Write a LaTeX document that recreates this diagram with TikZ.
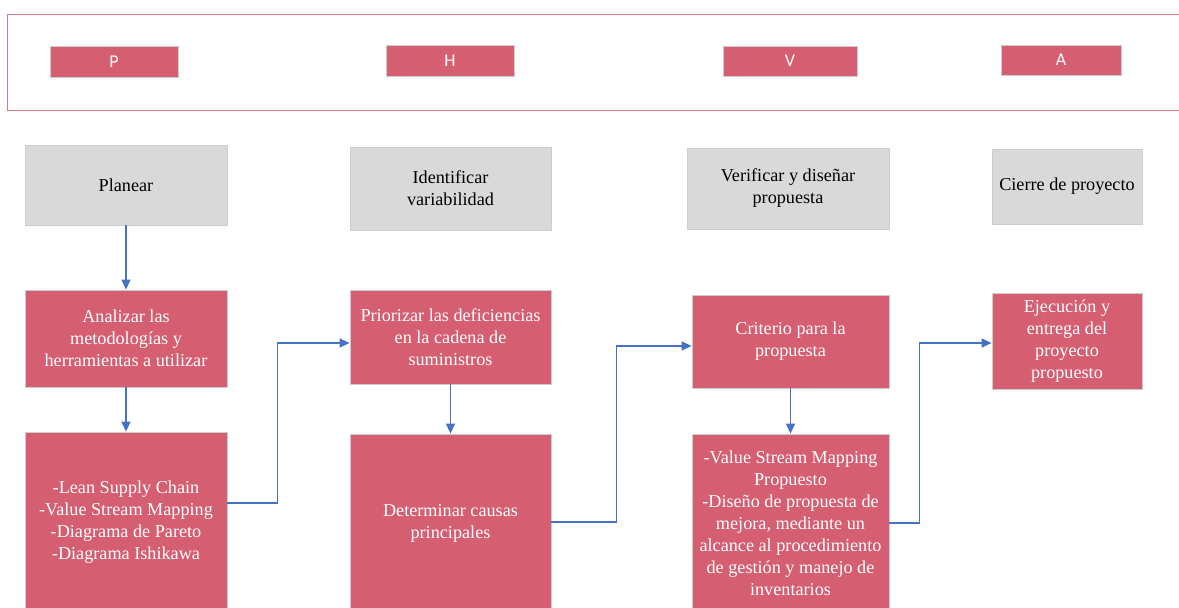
\documentclass[tikz,border=0pt]{standalone}
\usepackage{fontspec}
\setmainfont{Liberation Serif}
\newfontfamily\hdrfont{Carlito}
\usetikzlibrary{arrows.meta,calc}
\definecolor{rosa}{RGB}{213,94,113}
\definecolor{gris}{RGB}{217,217,217}
\definecolor{borde}{RGB}{205,205,205}
\definecolor{marco}{RGB}{214,122,138}
\definecolor{azul}{RGB}{68,114,196}
\tikzset{
  hdrbox/.style={draw=borde, line width=0.8pt, fill=rosa, text=white, font=\hdrfont\fontsize{18}{20}\selectfont, inner sep=0pt},
  graybox/.style={draw=borde, line width=0.8pt, fill=gris, text=black, align=center, font=\fontsize{18.2}{22}\selectfont, inner sep=0pt},
  redbox/.style={draw=borde, line width=0.8pt, fill=rosa, text=white, align=center, font=\fontsize{18.2}{22}\selectfont, inner sep=0pt},
  arr/.style={draw=azul, line width=1.3pt, -{Triangle[length=10pt,width=9pt]}}
}
\begin{document}
\begin{tikzpicture}[x=1pt,y=-1pt]
\useasboundingbox (0,0) rectangle (1179,608);
\clip (0,0) rectangle (1179,608);
% header frame
\draw[marco, line width=1pt] (7,14) rectangle (1190,110);
\node[hdrbox, minimum width=128, minimum height=31] (P) at (114,61.5) {P};
\node[hdrbox, minimum width=128, minimum height=31] (H) at (450,60.5) {H};
\node[hdrbox, minimum width=134, minimum height=30] (V) at (790,61) {V};
\node[hdrbox, minimum width=120, minimum height=30] (A) at (1061,60) {A};
% gray row
\node[graybox, minimum width=202, minimum height=80] (plan) at (126,185) {Planear};
\node[graybox, minimum width=201, minimum height=83] (ident) at (450.5,188.5) {Identificar\\variabilidad};
\node[graybox, minimum width=202, minimum height=81] (verif) at (788,188.5) {Verificar y diseñar\\propuesta};
\node[graybox, minimum width=150, minimum height=75] (cierre) at (1067,186.5) {Cierre de proyecto};
% red row 2
\node[redbox, minimum width=202, minimum height=97] (ana) at (126,338.5) {Analizar las\\metodologías y\\herramientas a utilizar};
\node[redbox, minimum width=201, minimum height=94] (prio) at (450.5,337) {Priorizar las deficiencias\\en la cadena de\\suministros};
\node[redbox, minimum width=197, minimum height=93] (crit) at (790.5,341.5) {Criterio para la\\propuesta};
\node[redbox, minimum width=150, minimum height=96] (ejec) at (1067,341) {Ejecución y\\entrega del\\proyecto\\propuesto};
% red row 3
\node[redbox, minimum width=202, minimum height=180] (lean) at (126,522) {-Lean Supply Chain\\-Value Stream Mapping\\-Diagrama de Pareto\\-Diagrama Ishikawa};
\node[redbox, minimum width=201, minimum height=178] (det) at (450.5,523) {Determinar causas\\principales};
\node[redbox, minimum width=197, minimum height=178] (vsm) at (790.5,523) {-Value Stream Mapping\\Propuesto\\-Diseño de propuesta de\\mejora, mediante un\\alcance al procedimiento\\de gestión y manejo de\\inventarios};
% connectors
\draw[arr] (plan.south) -- (ana.north);
\draw[arr] (ana.south) -- (lean.north);
\draw[arr] (prio.south) -- (det.north);
\draw[arr] (crit.south) -- (vsm.north);
\draw[arr] ([yshift=19pt]lean.east) -- ++(50,0) |- ([yshift=-6pt]prio.west);
\draw[arr] ([yshift=1pt]det.east) -- ++(65,0) |- ([yshift=-4.5pt]crit.west);
\draw[arr] (vsm.east) -- ++(30,0) |- ([yshift=-2pt]ejec.west);
\end{tikzpicture}
\end{document}
